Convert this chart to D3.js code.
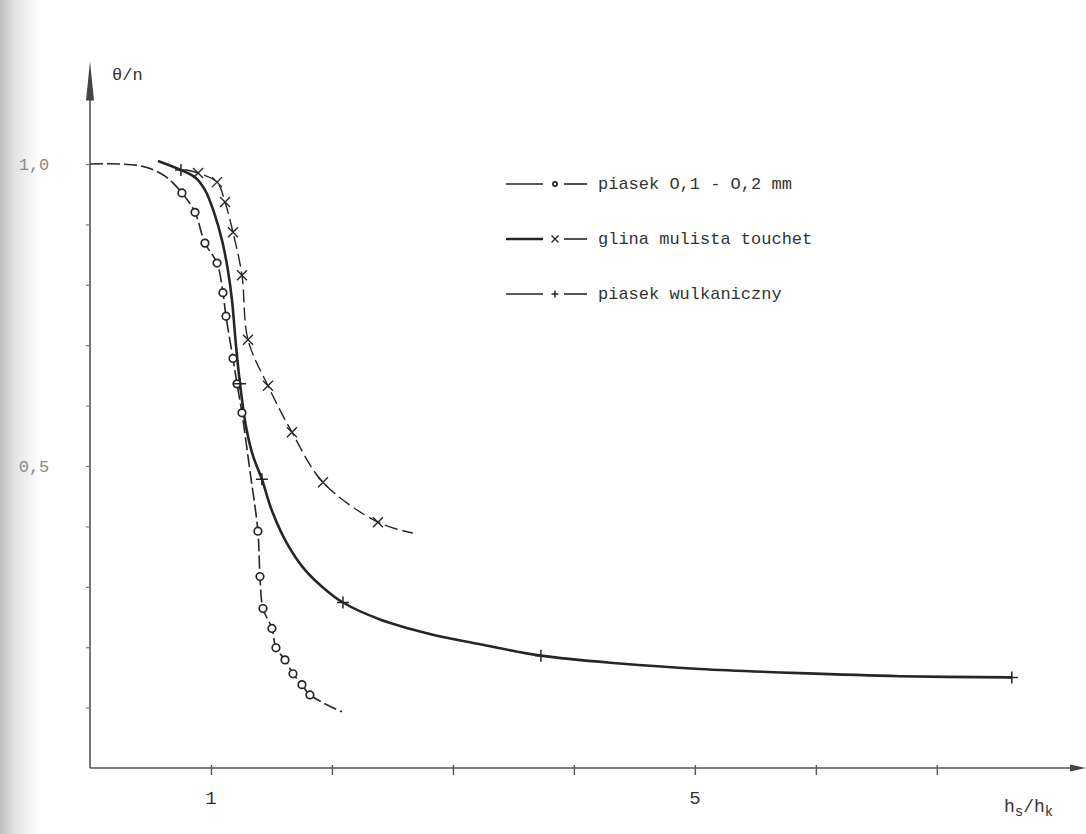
<!DOCTYPE html>
<html>
<head>
<meta charset="utf-8">
<script src="https://cdn.jsdelivr.net/npm/d3@7"></script>
<style>
  html, body { margin: 0; padding: 0; background: #fff; }
  svg { display: block; }
</style>
</head>
<body>
<svg id="chart" width="1086" height="834"></svg>
<script>
// θ/n against hs/hk for three soils

// piasek 0,1 - 0,2 mm : curve and circle markers
const sandFineCurve = [
  [0, 1.0], [0.25, 1.0], [0.455, 0.995], [0.62, 0.98], [0.76, 0.952], [0.868, 0.92],
  [0.95, 0.869], [1.05, 0.836], [1.099, 0.787], [1.124, 0.748], [1.182, 0.678],
  [1.215, 0.636], [1.256, 0.588], [1.322, 0.492], [1.388, 0.392], [1.405, 0.317],
  [1.43, 0.264], [1.504, 0.231], [1.537, 0.199], [1.612, 0.179], [1.678, 0.156],
  [1.752, 0.138], [1.818, 0.121], [2.083, 0.093]
];
const sandFineMarks = [
  [0.76, 0.952], [0.868, 0.92], [0.95, 0.869], [1.05, 0.836], [1.099, 0.787],
  [1.124, 0.748], [1.182, 0.678], [1.215, 0.636], [1.256, 0.588], [1.388, 0.392],
  [1.405, 0.317], [1.43, 0.264], [1.504, 0.231], [1.537, 0.199], [1.612, 0.179],
  [1.678, 0.156], [1.752, 0.138], [1.818, 0.121]
];

// glina mulista touchet : curve and cross markers
const siltClayCurve = [
  [0.8, 0.99], [0.893, 0.985], [1.05, 0.97], [1.116, 0.937], [1.182, 0.887],
  [1.256, 0.816], [1.306, 0.709], [1.471, 0.633], [1.669, 0.556], [1.926, 0.473],
  [2.38, 0.407], [2.669, 0.389]
];
const siltClayMarks = [
  [0.893, 0.985], [1.05, 0.97], [1.116, 0.937], [1.182, 0.887], [1.256, 0.816],
  [1.306, 0.709], [1.471, 0.633], [1.669, 0.556], [1.926, 0.473], [2.38, 0.407]
];

// piasek wulkaniczny : curve and plus markers
const volcanicCurve = [
  [0.562, 1.005], [0.752, 0.99], [0.868, 0.978], [0.95, 0.957], [1.025, 0.92],
  [1.091, 0.874], [1.14, 0.824], [1.174, 0.774], [1.207, 0.699], [1.24, 0.636],
  [1.289, 0.566], [1.347, 0.517], [1.421, 0.478], [1.504, 0.426], [1.628, 0.372],
  [1.777, 0.328], [1.942, 0.296], [2.091, 0.274], [2.397, 0.246], [2.81, 0.222],
  [3.223, 0.205], [3.727, 0.186], [4.38, 0.173], [5.041, 0.164], [5.868, 0.157],
  [6.694, 0.152], [7.62, 0.15]
];
const volcanicMarks = [
  [0.752, 0.99], [1.24, 0.636], [1.421, 0.478], [2.091, 0.274], [3.727, 0.186], [7.62, 0.15]
];

// axis ticks and labels
const xTicks = [1, 2, 3, 4, 5, 6, 7];
const xTickLabels = { 1: "1", 5: "5" };
const yTicks = [0.1, 0.2, 0.3, 0.4, 0.5, 0.6, 0.7, 0.8, 0.9, 1.0];
const yTickLabels = { 0.5: "0,5", 1: "1,0" };

// legend entries
const legendLabels = ["piasek O,1 - O,2 mm", "glina mulista touchet", "piasek wulkaniczny"];
const legendMarkers = ["circle", "cross", "plus"];

const ink = "#262626";
const mono = "'Liberation Mono', 'DejaVu Sans Mono', monospace";

const svg = d3.select("#chart");

// soft grey shading along the left edge of the sheet
const defs = svg.append("defs");
const grad = defs.append("linearGradient").attr("id", "edge").attr("x1", 0).attr("x2", 1);
grad.append("stop").attr("offset", "0%").attr("stop-color", "#bdbdbd");
grad.append("stop").attr("offset", "35%").attr("stop-color", "#e2e2e2");
grad.append("stop").attr("offset", "100%").attr("stop-color", "#ffffff");
svg.append("rect").attr("x", 0).attr("y", 0).attr("width", 40).attr("height", 834)
  .attr("fill", "url(#edge)");

const x = d3.scaleLinear().domain([0, 8.2]).range([90, 1082]);
const y = d3.scaleLinear().domain([0, 1]).range([768, 164]);

// axes
const axisG = svg.append("g").attr("stroke", "#555").attr("fill", "none");
const xAxis = d3.axisBottom(x).tickValues(xTicks).tickSize(7).tickFormat("");
svg.append("g").attr("transform", `translate(0,${y(0)})`).call(xAxis)
  .call(g => g.select(".domain").remove())
  .call(g => g.selectAll("line").attr("stroke", "#555").attr("stroke-width", 1.4).attr("y1", -3));
const yAxis = d3.axisLeft(y).tickValues(yTicks).tickSize(4).tickFormat("");
svg.append("g").attr("transform", `translate(${x(0)},0)`).call(yAxis)
  .call(g => g.select(".domain").remove())
  .call(g => g.selectAll("line").attr("stroke", "#777").attr("stroke-width", 1.2));

axisG.append("line").attr("x1", x(0)).attr("x2", x(8.2) - 4)
  .attr("y1", y(0)).attr("y2", y(0)).attr("stroke-width", 1.6);
axisG.append("line").attr("x1", x(0)).attr("x2", x(0))
  .attr("y1", y(0)).attr("y2", y(1.14)).attr("stroke-width", 1.6);

// arrow heads
svg.append("path")
  .attr("d", `M${x(0)},${y(1.17)} L${x(0) - 4},${y(1.105)} L${x(0) + 4},${y(1.105)} Z`)
  .attr("fill", "#444");
svg.append("path")
  .attr("d", `M${x(8.2) + 4},${y(0)} L${x(8.2) - 12},${y(0) - 3.5} L${x(8.2) - 12},${y(0) + 3.5} Z`)
  .attr("fill", "#444");

// tick labels
svg.append("g").selectAll("text").data(xTicks.filter(d => xTickLabels[d]))
  .join("text")
  .attr("x", d => x(d))
  .attr("y", y(0) + 36)
  .attr("text-anchor", "middle")
  .attr("font-family", mono).attr("font-size", 19).attr("fill", "#333")
  .text(d => xTickLabels[d]);
svg.append("g").selectAll("text").data(yTicks.filter(d => yTickLabels[d]))
  .join("text")
  .attr("x", 34)
  .attr("y", d => y(d) + 6)
  .attr("text-anchor", "middle")
  .attr("font-family", mono).attr("font-size", 17).attr("fill", "#8a8a8a")
  .text(d => yTickLabels[d]);

// axis titles
svg.append("text").attr("x", x(0) + 22).attr("y", 80)
  .attr("font-family", mono).attr("font-size", 17).attr("fill", "#333").text("θ/n");
const xt = svg.append("text").attr("x", 1004).attr("y", y(0) + 44)
  .attr("font-family", mono).attr("font-size", 18).attr("fill", "#333");
xt.append("tspan").text("h");
xt.append("tspan").attr("dy", 4).attr("font-size", 14).text("s");
xt.append("tspan").attr("dy", -4).text("/h");
xt.append("tspan").attr("dy", 4).attr("font-size", 14).text("k");

// curves
const line = d3.line().x(d => x(d[0])).y(d => y(d[1])).curve(d3.curveCatmullRom.alpha(0.5));

svg.append("path").datum(sandFineCurve).attr("d", line)
  .attr("fill", "none").attr("stroke", ink).attr("stroke-width", 1.6)
  .attr("stroke-dasharray", "13,4");
svg.append("path").datum(siltClayCurve).attr("d", line)
  .attr("fill", "none").attr("stroke", ink).attr("stroke-width", 1.4)
  .attr("stroke-dasharray", "13,5");
svg.append("path").datum(volcanicCurve).attr("d", line)
  .attr("fill", "none").attr("stroke", ink).attr("stroke-width", 2.6);

// markers
function drawMarker(g, kind, cx, cy, s) {
  if (kind === "circle") {
    g.append("circle").attr("cx", cx).attr("cy", cy).attr("r", s * 0.6)
      .attr("fill", "#fff").attr("stroke", ink).attr("stroke-width", 1.7);
  } else if (kind === "cross") {
    g.append("path")
      .attr("d", `M${cx - s},${cy - s} L${cx + s},${cy + s} M${cx - s},${cy + s} L${cx + s},${cy - s}`)
      .attr("stroke", ink).attr("stroke-width", 1.4);
  } else {
    g.append("path")
      .attr("d", `M${cx - s},${cy} L${cx + s},${cy} M${cx},${cy - s} L${cx},${cy + s}`)
      .attr("stroke", ink).attr("stroke-width", 1.5);
  }
}
const markG = svg.append("g");
sandFineMarks.forEach(d => drawMarker(markG, "circle", x(d[0]), y(d[1]), 6.3));
siltClayMarks.forEach(d => drawMarker(markG, "cross", x(d[0]), y(d[1]), 5));
volcanicMarks.forEach(d => drawMarker(markG, "plus", x(d[0]), y(d[1]), 6));

// legend
const legend = svg.append("g").attr("transform", "translate(506,184)");
legendLabels.forEach((label, i) => {
  const row = legend.append("g").attr("transform", `translate(0,${i * 55})`);
  const w = i === 1 ? 2.6 : 1.5;
  row.append("line").attr("x1", 0).attr("x2", 37).attr("stroke", ink).attr("stroke-width", w);
  row.append("line").attr("x1", 58).attr("x2", 81).attr("stroke", ink).attr("stroke-width", 1.6);
  drawMarker(row, legendMarkers[i], 49, 0, 3.5);
  row.append("text").attr("x", 92).attr("y", 5)
    .attr("font-family", mono).attr("font-size", 17).attr("fill", "#333").text(label);
});
</script>
</body>
</html>
